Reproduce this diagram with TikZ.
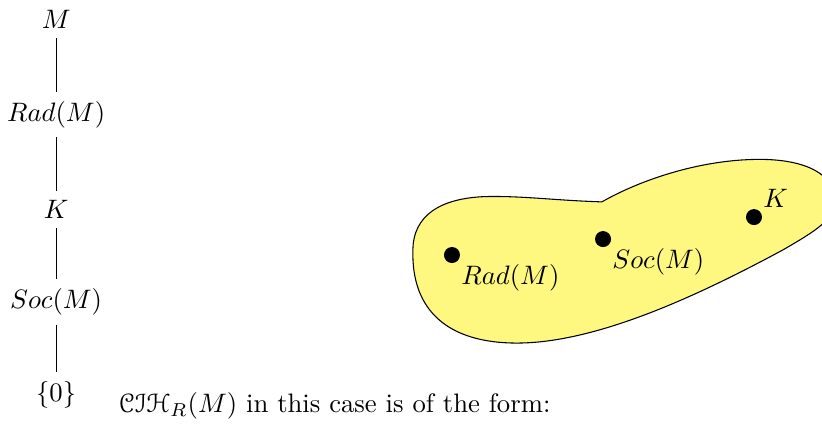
\documentclass[tikz,border=0pt]{standalone}
\usepackage{amsmath}
\usepackage{amssymb}
\usepackage{eucal}
\usetikzlibrary{positioning}

\begin{document}
\begin{tikzpicture}
    \useasboundingbox (0,0) rectangle (10.83,5.64);
    % Chain of submodules - left side
    \node (m) at (0.74,5.38) {$M$};
    \node (rad) at (0.74,4.13) {$Rad(M)$};
    \node (k) at (0.74,2.88) {$K$};
    \node (soc) at (0.74,1.66) {$Soc(M)$};
    \node (zero) at (0.74,0.44) {$\{0\}$};
    \draw (m) -- (rad);
    \draw (rad) -- (k);
    \draw (k) -- (soc);
    \draw (soc) -- (zero);
    \node[anchor=base west] (form) at (1.44,0.21) {$\mathcal{CIH}_R(M)$ in this case is of the form:};

    % Region - right side
    \draw[fill=yellow!50] (7.93,2.98) .. controls (7.3,3.0) and (6.9,3.06) .. (6.4,3.05)
        .. controls (5.8,3.03) and (5.44,2.8) .. (5.44,2.34)
        .. controls (5.42,1.55) and (5.9,1.12) .. (6.81,1.12)
        .. controls (7.9,1.12) and (9.3,1.8) .. (10.32,2.35)
        .. controls (10.75,2.6) and (11.0,2.75) .. (11.0,3.0)
        .. controls (11.0,3.35) and (10.6,3.54) .. (10.01,3.54)
        .. controls (9.2,3.54) and (8.4,3.25) .. (7.93,2.98) -- cycle;
    % Points in the region
    \coordinate (prad) at (5.955,2.28);
    \coordinate (psoc) at (7.945,2.49);
    \coordinate (pk) at (9.934,2.78);
    \fill (prad) circle (3pt);
    \fill (psoc) circle (3pt);
    \fill (pk) circle (3pt);
    \node[below right] (lrad) at (prad) {$Rad(M)$};
    \node[below right] (lsoc) at (psoc) {$Soc(M)$};
    \node[above right] (lk) at (pk) {$K$};
\end{tikzpicture}
\end{document}
